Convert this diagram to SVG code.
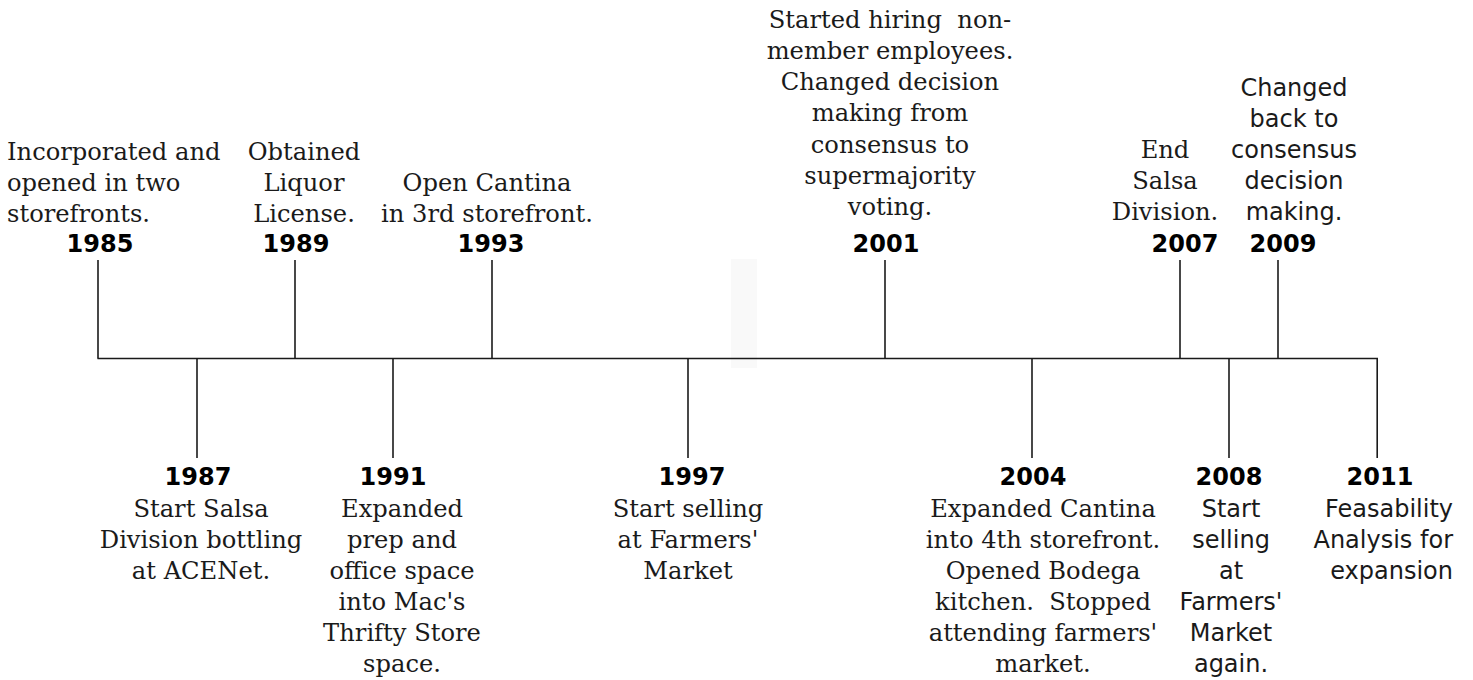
<svg xmlns="http://www.w3.org/2000/svg" width="1473" height="680" viewBox="0 0 1473 680">
<style>
.s{font-family:"DejaVu Serif","Liberation Serif",serif;font-size:24.2px;fill:#1a1a1a;text-anchor:middle}
.n{font-family:"DejaVu Sans","Liberation Sans",sans-serif;font-size:24px;fill:#1a1a1a;text-anchor:middle}
.y{font-family:"DejaVu Sans","Liberation Sans",sans-serif;font-size:24px;font-weight:bold;fill:#000;text-anchor:middle}
.ln{stroke:#1a1a1a;stroke-width:1.6;fill:none}
</style>
<rect width="1473" height="680" fill="#fff"/>
<rect x="731" y="259" width="26" height="109" fill="#f9f9f9"/>
<g id="connectors">
<line class="ln" x1="97.5" y1="358.5" x2="1378" y2="358.5"/>
<line class="ln" x1="98" y1="260" x2="98" y2="358.5"/>
<line class="ln" x1="295" y1="260" x2="295" y2="358.5"/>
<line class="ln" x1="492" y1="260" x2="492" y2="358.5"/>
<line class="ln" x1="885" y1="260" x2="885" y2="358.5"/>
<line class="ln" x1="1180" y1="260" x2="1180" y2="358.5"/>
<line class="ln" x1="1278" y1="260" x2="1278" y2="358.5"/>
<line class="ln" x1="197" y1="358.5" x2="197" y2="458"/>
<line class="ln" x1="393" y1="358.5" x2="393" y2="458"/>
<line class="ln" x1="688" y1="358.5" x2="688" y2="458"/>
<line class="ln" x1="1032" y1="358.5" x2="1032" y2="458"/>
<line class="ln" x1="1229" y1="358.5" x2="1229" y2="458"/>
<line class="ln" x1="1377.2" y1="358.5" x2="1377.2" y2="458"/>
</g>
<g id="e1985">
<text class="s" style="text-anchor:start" x="7" y="160">Incorporated and</text>
<text class="s" style="text-anchor:start" x="7" y="191">opened in two</text>
<text class="s" style="text-anchor:start" x="7" y="222">storefronts.</text>
<text class="y" x="100" y="252">1985</text>
</g>
<g id="e1989">
<text class="s" x="304" y="160">Obtained</text>
<text class="s" x="304" y="191">Liquor</text>
<text class="s" x="304" y="222">License.</text>
<text class="y" x="296" y="252">1989</text>
</g>
<g id="e1993">
<text class="s" x="487" y="191">Open Cantina</text>
<text class="s" x="487" y="222">in 3rd storefront.</text>
<text class="y" x="491" y="252">1993</text>
</g>
<g id="e2001">
<text class="s" x="890" y="28" xml:space="preserve">Started hiring  non-</text>
<text class="s" x="890" y="59">member employees.</text>
<text class="s" x="890" y="90">Changed decision</text>
<text class="s" x="890" y="121">making from</text>
<text class="s" x="890" y="153">consensus to</text>
<text class="s" x="890" y="184">supermajority</text>
<text class="s" x="890" y="215">voting.</text>
<text class="y" x="886" y="252">2001</text>
</g>
<g id="e2007">
<text class="s" x="1165" y="158">End</text>
<text class="s" x="1165" y="189">Salsa</text>
<text class="s" x="1165" y="220">Division.</text>
<text class="y" x="1185" y="252">2007</text>
</g>
<g id="e2009">
<text class="n" x="1294" y="96">Changed</text>
<text class="n" x="1294" y="127">back to</text>
<text class="n" x="1294" y="158">consensus</text>
<text class="n" x="1294" y="189">decision</text>
<text class="n" x="1294" y="220">making.</text>
<text class="y" x="1283" y="252">2009</text>
</g>
<g id="e1987">
<text class="y" x="198" y="485">1987</text>
<text class="s" x="201" y="517">Start Salsa</text>
<text class="s" x="201" y="548">Division bottling</text>
<text class="s" x="201" y="579">at ACENet.</text>
</g>
<g id="e1991">
<text class="y" x="393" y="485">1991</text>
<text class="s" x="402" y="517">Expanded</text>
<text class="s" x="402" y="548">prep and</text>
<text class="s" x="402" y="579">office space</text>
<text class="s" x="402" y="610">into Mac's</text>
<text class="s" x="402" y="641">Thrifty Store</text>
<text class="s" x="402" y="672">space.</text>
</g>
<g id="e1997">
<text class="y" x="692" y="485">1997</text>
<text class="s" x="688" y="517">Start selling</text>
<text class="s" x="688" y="548">at Farmers'</text>
<text class="s" x="688" y="579">Market</text>
</g>
<g id="e2004">
<text class="y" x="1033" y="485">2004</text>
<text class="s" x="1043" y="517">Expanded Cantina</text>
<text class="s" x="1043" y="548">into 4th storefront.</text>
<text class="s" x="1043" y="579">Opened Bodega</text>
<text class="s" x="1043" y="610" xml:space="preserve">kitchen.  Stopped</text>
<text class="s" x="1043" y="641">attending farmers'</text>
<text class="s" x="1043" y="672">market.</text>
</g>
<g id="e2008">
<text class="y" x="1229" y="485">2008</text>
<text class="n" x="1231" y="517">Start</text>
<text class="n" x="1231" y="548">selling</text>
<text class="n" x="1231" y="579">at</text>
<text class="n" x="1231" y="610">Farmers'</text>
<text class="n" x="1231" y="641">Market</text>
<text class="n" x="1231" y="672">again.</text>
</g>
<g id="e2011">
<text class="y" x="1380" y="485">2011</text>
<text class="n" style="text-anchor:end" x="1453" y="517">Feasability</text>
<text class="n" style="text-anchor:end" x="1453" y="548">Analysis for</text>
<text class="n" style="text-anchor:end" x="1453" y="579">expansion</text>
</g>
</svg>
